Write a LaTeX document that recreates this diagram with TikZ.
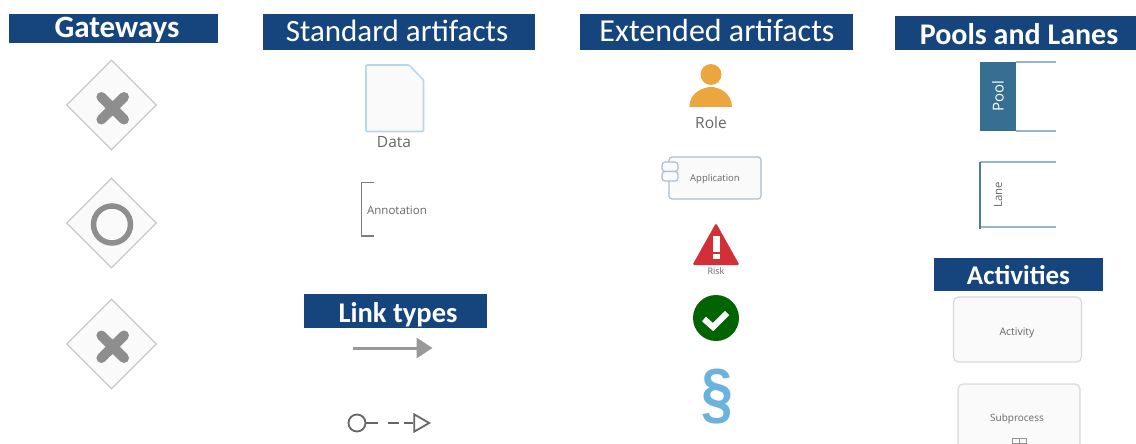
\documentclass[tikz,border=0pt]{standalone}
\usepackage{fontspec}
\setmainfont{Carlito}
\newfontfamily\lblfont{Open Sans}
\newfontfamily\secfont{Liberation Sans}
\usetikzlibrary{shapes.geometric,arrows.meta}
\definecolor{barblue}{HTML}{15457C}
\definecolor{gwline}{HTML}{C8C8C8}
\definecolor{gwfill}{HTML}{FAFAFA}
\definecolor{gwmark}{HTML}{8E8E8E}
\definecolor{docline}{HTML}{B5D8EE}
\definecolor{txtgrey}{HTML}{666666}
\definecolor{linkgrey}{HTML}{999999}
\definecolor{rolecol}{HTML}{EBA63F}
\definecolor{appline}{HTML}{A9BDD3}
\definecolor{riskred}{HTML}{D32F36}
\definecolor{okgreen}{HTML}{006400}
\definecolor{secblue}{HTML}{6BB3DC}
\definecolor{poolfill}{HTML}{376F93}
\definecolor{poolline}{HTML}{94B7CB}
\definecolor{laneline}{HTML}{4A7C9C}
\definecolor{actline}{HTML}{D8D8D8}
\tikzset{
  barbox/.style={fill=barblue,draw=none},
  headbold/.style={text=white,inner sep=0pt,font=\fontsize{#1}{#1}\selectfont\bfseries},
  headreg/.style={text=white,inner sep=0pt,font=\fontsize{#1}{#1}\selectfont},
  gateway/.style={diamond,aspect=1,draw=gwline,fill=gwfill,line width=1.1pt,minimum size=90pt,inner sep=0pt},
  gwcross/.style={draw=gwmark,line width=10pt,line cap=round},
  lbl/.style={text=txtgrey,inner sep=0pt,font=\lblfont\fontsize{#1}{#1}\selectfont},
  linkline/.style={draw=linkgrey,line width=2pt},
  activitybox/.style={draw=actline,fill=gwfill,line width=1.2pt,rounded corners=5pt},
}
\begin{document}
\begin{tikzpicture}[x=1pt,y=-1pt]
\useasboundingbox (0,0) rectangle (1136,444);
\clip (0,0) rectangle (1136,444);
% Header bars
\fill[barbox] (9,14) rectangle (217.5,43);
\node[headbold=31] (hgate) at (117,30) {Gateways};
\fill[barbox] (263,14) rectangle (535,50);
\node[headreg=31] (hstd) at (397,31) {Standard artifacts};
\fill[barbox] (580,14) rectangle (852.5,50);
\node[headreg=32] (hext) at (717,31) {Extended artifacts};
\fill[barbox] (895,16) rectangle (1136,50);
\node[headbold=30] (hpool) at (1019,34) {Pools and Lanes};
\fill[barbox] (304,294) rectangle (487,328);
\node[headbold=28.5] (hlink) at (398,314.5) {Link types};
\fill[barbox] (934,258) rectangle (1103,291);
\node[headbold=27] (hact) at (1018.5,275.5) {Activities};
% Gateways
\node[gateway] (g1) at (111.5,105) {};
\node[gateway] (g2) at (111.5,223) {};
\node[gateway] (g3) at (111.5,344) {};
\draw[gwcross] (101.4,97) -- (124,119.5) (124,97) -- (101.4,119.5);
\draw[gwmark,line width=5.5pt] (112,224.5) circle (18.5);
\draw[gwcross] (101.4,335.5) -- (124,358) (124,335.5) -- (101.4,358);
% Standard artifacts
\draw[draw=docline,fill=gwfill,line width=1.6pt,rounded corners=1pt] (366,65) -- (409,65) -- (423.5,80) -- (423.5,131.5) -- (366,131.5) -- cycle;
\node[lbl=15.5] (data) at (394,142.5) {Data};
\draw[draw=txtgrey!85,line width=1.4pt] (374,182.5) -- (361.5,182.5) -- (361.5,236) -- (374,236);
\node[lbl=11.5] (anno) at (397,210) {Annotation};
% Link types
\coordinate (la) at (352.5,348);
\coordinate (lb) at (432.5,348);
\draw[linkline,line width=3pt,-{Triangle[length=16pt,width=20pt]}] (la) -- (lb);
\node[circle,draw=txtgrey,line width=1.8pt,minimum size=17pt,inner sep=0pt] (lc) at (357,423) {};
\node[isosceles triangle,isosceles triangle apex angle=60,draw=txtgrey,line width=1.8pt,minimum height=15pt,inner sep=0pt,anchor=apex] (ld) at (431,423) {};
\draw[draw=txtgrey,line width=1.8pt,dash pattern=on 12pt off 10pt on 11pt off 5pt on 12pt off 0pt] (lc.east) -- (ld.west);
% Extended artifacts
\fill[rolecol] (711,74.5) circle (10.5);
\fill[rolecol] (689.3,107) .. controls (689.3,93) and (703,87) .. (711,87) .. controls (719,87) and (732,93) .. (732,107) -- cycle;
\node[lbl=15.5] (role) at (711,123) {Role};
\draw[draw=appline,fill=gwfill,line width=1.2pt,rounded corners=3pt] (669,157) rectangle (761,199);
\draw[draw=appline,fill=gwfill,line width=1.2pt,rounded corners=3pt] (662,162) rectangle (678,171.5);
\draw[draw=appline,fill=gwfill,line width=1.2pt,rounded corners=3pt] (662,171.5) rectangle (678,181);
\node[lbl=9.5] (app) at (715,179.5) {Application};
\fill[riskred,rounded corners=1.5pt] (716,223) -- (739.5,265) -- (692.5,265) -- cycle;
\fill[white] (713,236) rectangle (720,252);
\fill[white] (713,254) rectangle (720,259);
\node[lbl=9] (risk) at (716,271) {Risk};
\node[circle,fill=okgreen,minimum size=46pt,inner sep=0pt] (ok) at (716,318) {};
\draw[white,line width=6pt] (704,319) -- (713,327) -- (727,313);
\node[text=secblue,inner sep=0pt,xscale=.92,yscale=1.1,font=\secfont\bfseries\fontsize{62}{62}\selectfont] (sec) at (717,397) {§};
% Pools and lanes
\fill[poolfill] (980,62) rectangle (1016,131);
\draw[poolline,line width=1.3pt] (1016,62) -- (1056,62) (1016,131) -- (1056,131);
\node[rotate=90,text=white,inner sep=0pt,font=\lblfont\fontsize{15}{15}\selectfont] (pool) at (998,96) {Pool};
\draw[poolline,line width=1.3pt] (980,162) -- (1056,162) (980,227) -- (1056,227);
\draw[laneline,line width=1.3pt] (980,162) -- (980,228.5);
\node[rotate=90,lbl=11.5] (lane) at (998,195) {Lane};
% Activities
\draw[activitybox] (953.5,297) rectangle (1081.5,362);
\node[lbl=10.5] (act) at (1017,332.5) {Activity};
\draw[activitybox] (958,384) rectangle (1080,470);
\node[lbl=10] (sub) at (1017,418.5) {Subprocess};
\draw[draw=txtgrey!70,line width=.9pt] (1012,438) rectangle (1026,460) (1019,438) -- (1019,460) (1012,443) -- (1026,443);
\end{tikzpicture}
\end{document}
